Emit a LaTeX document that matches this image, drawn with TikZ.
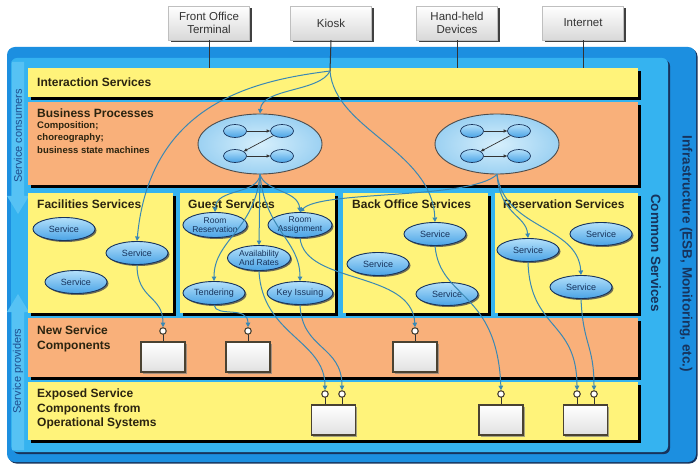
\documentclass[tikz,border=0pt]{standalone}
\usepackage{fontspec}
\setmainfont{Liberation Sans}
\usetikzlibrary{shapes.geometric,shadows,arrows.meta,positioning}

\definecolor{outerblue}{HTML}{1C8FE0}
\definecolor{innerblue}{HTML}{35B3F0}
\definecolor{stripblue}{HTML}{56C2F4}
\definecolor{layeryel}{HTML}{FFF37A}
\definecolor{layerorg}{HTML}{F9B07A}
\definecolor{titlec}{HTML}{2B2410}
\definecolor{navy}{HTML}{17335C}
\definecolor{sidec}{HTML}{1E4D8F}
\definecolor{linkc}{HTML}{3A88B4}
\definecolor{svclight}{HTML}{B3E0FA}
\definecolor{svcdark}{HTML}{4AA3E6}
\definecolor{procin}{HTML}{D6EFFC}
\definecolor{procout}{HTML}{9CD1F2}
\definecolor{boxedge}{HTML}{4A4232}

\begin{document}
\begin{tikzpicture}[x=1pt, y=-1pt,
        layer/.style={anchor=north west, inner sep=0, draw=none,
            drop shadow={shadow xshift=2.5pt, shadow yshift=-2.5pt, fill=black, opacity=1}},
        title/.style={anchor=west, inner sep=0, align=left, text=titlec,
            font=\fontsize{12}{14.5}\selectfont\bfseries},
        svc/.style={ellipse, draw=navy, line width=0.9pt, top color=svclight, bottom color=svcdark,
            minimum width=62pt, minimum height=23pt, inner sep=0, align=center, text=navy,
            font=\fontsize{9}{9}\selectfont,
            drop shadow={shadow xshift=1.5pt, shadow yshift=-1.5pt, fill=black!70, opacity=0.8}},
        svc2/.style={svc, minimum width=64pt, minimum height=25pt, font=\fontsize{8.5}{9}\selectfont},
        proc/.style={ellipse, draw=black!70, line width=0.9pt, inner color=procin, outer color=procout,
            minimum width=124pt, minimum height=60pt},
        mini/.style={ellipse, draw=navy, line width=0.7pt, top color=svclight, bottom color=svcdark,
            minimum width=23pt, minimum height=13pt, inner sep=0},
        flow/.style={draw=black!80, line width=0.7pt, -{Triangle[length=3.5pt,width=3pt]}},
        term/.style={rectangle, draw=black!25, top color=white, bottom color=black!15,
            minimum width=81pt, minimum height=34pt, align=center, text=black!80,
            font=\fontsize{11.5}{13}\selectfont,
            drop shadow={shadow xshift=2.5pt, shadow yshift=-2.5pt, fill=black!75, opacity=1}},
        comp/.style={rectangle, draw=boxedge, line width=1.1pt, top color=white, bottom color=black!12,
            minimum width=44pt, minimum height=30pt, inner sep=0,
            drop shadow={shadow xshift=1.5pt, shadow yshift=-1.5pt, fill=black!50, opacity=0.7}},
        pin/.style={circle, draw=boxedge, fill=white, line width=1.1pt, minimum size=6.5pt, inner sep=0},
        stem/.style={draw=black!80, line width=1pt},
        link/.style={draw=linkc, line width=1pt, -{Triangle[length=4.5pt,width=4.5pt]}}]
    \useasboundingbox (0,0) rectangle (700,470);
    \fill[white] (0,0) rectangle (700,470);

    % frame
    \fill[outerblue, rounded corners=8pt,
        drop shadow={shadow xshift=1.5pt, shadow yshift=-1.5pt, fill=navy, opacity=1}] (7,47) rectangle (696,462);
    \fill[innerblue, rounded corners=6pt,
        drop shadow={shadow xshift=2pt, shadow yshift=-2pt, fill=navy, opacity=1}] (11,58) rectangle (668,452);
    \fill[stripblue] (12,62) -- (24,62) -- (24,196) -- (29,196) -- (18,214) -- (7,196) -- (12,196) -- cycle;
    \fill[stripblue] (18,294) -- (29,312) -- (24,312) -- (24,450) -- (12,450) -- (12,312) -- (7,312) -- cycle;
    \node[rotate=90, inner sep=0, text=sidec, font=\fontsize{11}{13}\selectfont] (cons) at (18,136) {Service consumers};
    \node[rotate=90, inner sep=0, text=sidec, font=\fontsize{11}{13}\selectfont] (prov) at (18,371) {Service providers};
    \node[rotate=-90, inner sep=0, text=navy, font=\fontsize{13.5}{15}\selectfont\bfseries] (common) at (656,253) {Common Services};
    \node[rotate=-90, inner sep=0, text=navy, font=\fontsize{13.5}{15}\selectfont\bfseries] (infra) at (686,254) {Infrastructure (ESB, Monitoring, etc.)};

    % layers
    \node[layer, fill=layeryel, minimum width=610pt, minimum height=29pt] (inter) at (28,68) {};
    \node[layer, fill=layerorg, minimum width=610pt, minimum height=83pt] (bproc) at (28,102) {};
    \node[layer, fill=layeryel, minimum width=145pt, minimum height=120pt] (fac) at (28,193) {};
    \node[layer, fill=layeryel, minimum width=155pt, minimum height=120pt] (guest) at (180,193) {};
    \node[layer, fill=layeryel, minimum width=145pt, minimum height=120pt] (back) at (343,193) {};
    \node[layer, fill=layeryel, minimum width=143pt, minimum height=120pt] (resv) at (495,193) {};
    \node[layer, fill=layerorg, minimum width=610pt, minimum height=59pt] (newc) at (28,318) {};
    \node[layer, fill=layeryel, minimum width=610pt, minimum height=58pt] (expo) at (28,382) {};

    \node[title] (tinter) at (37,82) {Interaction Services};
    \node[title] (tbproc) at (37,113) {Business Processes};
    \node[title, anchor=north west, font=\fontsize{9.5}{12.5}\selectfont\bfseries] (tcomp) at (37,121)
        {Composition;\\choreography;\\business state machines};
    \node[title] (tfac) at (37,204) {Facilities Services};
    \node[title] (tguest) at (188,204) {Guest Services};
    \node[title] (tback) at (352,204) {Back Office Services};
    \node[title] (tresv) at (503,204) {Reservation Services};
    \node[title] (tnewc) at (37,339) {New Service\\Components};
    \node[title] (texpo) at (37,409) {Exposed Service\\Components from\\Operational Systems};

    % channels
    \node[term] (fot) at (209,23) {Front Office\\Terminal};
    \node[term] (kiosk) at (331,23) {Kiosk};
    \node[term] (hhd) at (457,23) {Hand-held\\Devices};
    \node[term] (inet) at (583,23) {Internet};
    \coordinate (kj) at (330,71);
    \draw[stem] (fot.south) -- (fot.south |- inter.north);
    \draw[stem] (kiosk.south) -- (kj);
    \draw[stem] (hhd.south) -- (hhd.south |- inter.north);
    \draw[stem] (inet.south) -- (inet.south |- inter.north);

    % business processes
    \foreach \n/\x in {pa/260, pb/497}{
        \node[proc] (\n) at (\x,144) {};
        \node[mini] (\n1) at (\x-25,131) {};
        \node[mini] (\n2) at (\x+22,131) {};
        \node[mini] (\n3) at (\x-25,156) {};
        \node[mini] (\n4) at (\x+22,156) {};
        \draw[flow] (\n1) -- (\n2);
        \draw[flow] (\n2) -- (\n3);
        \draw[flow] (\n3) -- (\n4);
    }

    % services
    \foreach \n/\x/\y in {fs1/64/229, fs2/137/253, fs3/76/282, bs1/435/234, bs2/378/264,
            bs3/447/294, rs1/528/250, rs2/601/234, rs3/581/287}
        \node[svc] (\n) at (\x,\y) {Service};
    \node[svc2] (rr) at (215,225) {Room\\Reservation};
    \node[svc2] (ra) at (300,225) {Room\\Assignment};
    \node[svc2, minimum width=63pt] (ar) at (259,258) {Availability\\And Rates};
    \node[svc] (te) at (214,293) {Tendering};
    \node[svc, minimum width=64pt] (ki) at (300,293) {Key Issuing};

    % components
    \foreach \n/\x/\y in {cn1/163/357, cn2/248/357, cn3/415/357, ce1/333.5/420, ce2/501/420, ce3/585.5/420}
        \node[comp] (\n) at (\x,\y) {};
    \foreach \n/\x/\y/\c in {pn1/163/331/cn1, pn2/248/331/cn2, pn3/415/331/cn3, pe1/325/394/ce1,
            pe2/342/394/ce1, pe3/501/394/ce2, pe4/577/394/ce3, pe5/594/394/ce3}{
        \draw[stem] (\x,\y) -- (\x,\y |- \c.north);
        \node[pin] (\n) at (\x,\y) {};
    }

    % connectors
    \draw[link] (kj) .. controls (320,92) and (262,88) .. (pa.north);
    \draw[link] (kj) .. controls (260,80) and (150,100) .. (fs2.north);
    \draw[link] (kj) .. controls (335,130) and (432,150) .. (bs1.north);
    \draw[link] (pa.south) .. controls (258,195) and (216,188) .. (rr.north);
    \draw[link] (pa.south) -- (ar.north);
    \draw[link] (pa.south) .. controls (255,230) and (214,240) .. (te.north);
    \draw[link] (pa.south) .. controls (265,230) and (300,240) .. (ki.north);
    \draw[link] (pa.south) .. controls (265,192) and (298,190) .. (ra.north);
    \draw[link] (pb.south) .. controls (470,200) and (320,190) .. (ra.north);
    \draw[link] (pb.south) .. controls (500,215) and (526,215) .. (rs1.north);
    \draw[link] (pb.south) .. controls (505,230) and (578,225) .. (rs3.north);
    \draw[link] (fs2.south) .. controls (137,300) and (163,295) .. (pn1.north);
    \draw[link] (te.south) .. controls (216,318) and (248,305) .. (pn2.north);
    \draw[link] (ar.south) .. controls (262,335) and (325,340) .. (pe1.north);
    \draw[link] (ki.south) .. controls (302,350) and (342,345) .. (pe2.north);
    \draw[link] (ra.south) .. controls (305,285) and (412,270) .. (pn3.north);
    \draw[link] (bs1.south) .. controls (440,300) and (497,290) .. (pe3.north);
    \draw[link] (rs1.south) .. controls (530,330) and (577,320) .. (pe4.north);
    \draw[link] (rs3.south) .. controls (583,345) and (594,345) .. (pe5.north);
\end{tikzpicture}
\end{document}
